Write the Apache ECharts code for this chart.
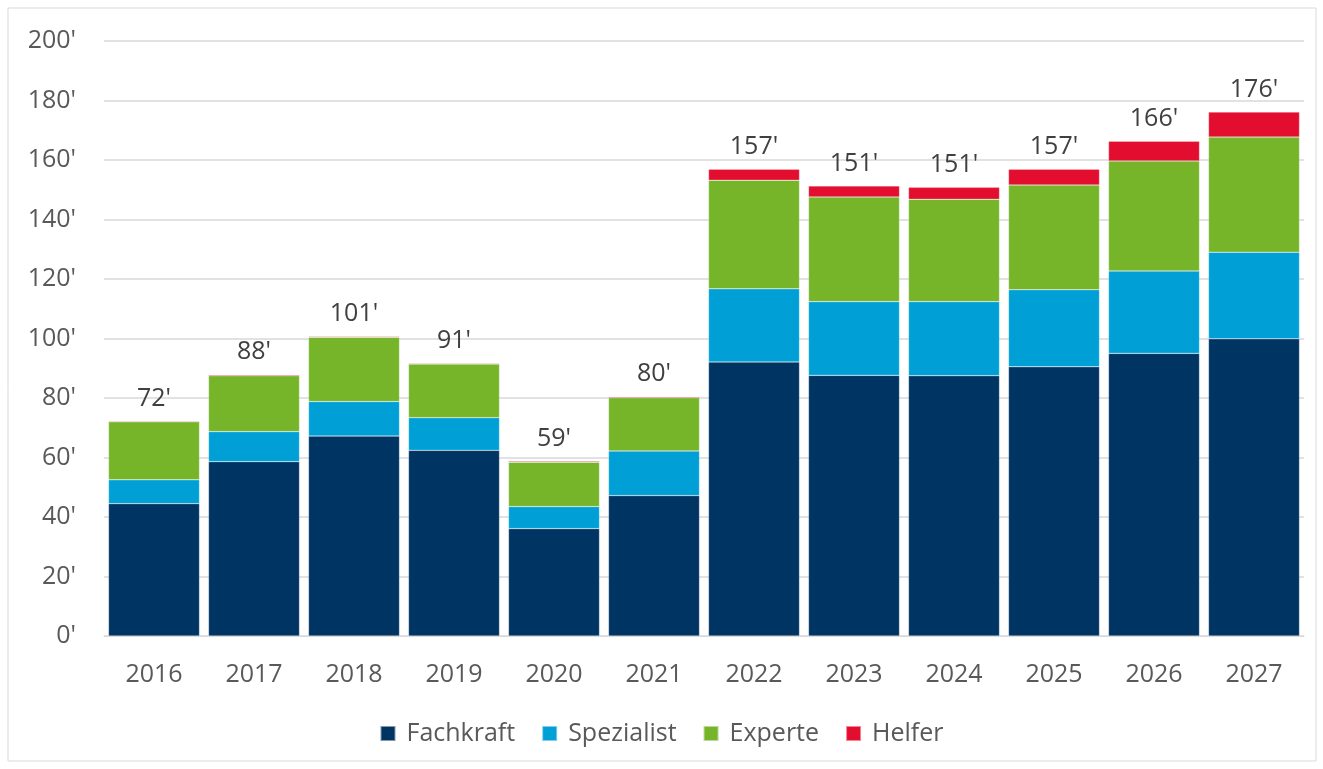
<!DOCTYPE html>
<html>
<head>
<meta charset="utf-8">
<script src="https://cdn.jsdelivr.net/npm/echarts@6/dist/echarts.min.js"></script>
<style>
  html, body { margin: 0; padding: 0; background: #fff; }
  #main { width: 1323px; height: 769px; }
</style>
</head>
<body>
<div id="main"></div>
<script>
// Jahre und Werte (in Tausend)
var years = ['2016', '2017', '2018', '2019', '2020', '2021', '2022', '2023', '2024', '2025', '2026', '2027']
var fachkraft = [44.5, 58.6, 67.2, 62.4, 36.1, 47.2, 92.1, 87.6, 87.5, 90.5, 95.0, 99.9]
var spezialist = [8.0, 10.1, 11.6, 11.0, 7.4, 15.0, 24.6, 24.8, 24.9, 25.9, 27.7, 29.1]
var experte = [19.5, 18.8, 21.6, 18.0, 14.9, 17.9, 36.5, 35.2, 34.4, 35.2, 37.0, 38.7]
var helfer = [0.3, 0.3, 0.3, 0.3, 0.3, 0.3, 3.7, 3.7, 4.0, 5.3, 6.6, 8.4]
var totals = [72, 88, 101, 91, 59, 80, 157, 151, 151, 157, 166, 176]
var yTicks = [0, 20, 40, 60, 80, 100, 120, 140, 160, 180, 200]

var font = '"Open Sans", "Noto Sans", sans-serif'
var chart = echarts.init(document.getElementById('main'))

function barSeries(name, data, color) {
  return {
    name: name,
    type: 'bar',
    stack: 'total',
    barCategoryGap: '9%',
    data: data,
    itemStyle: { color: color, borderColor: 'rgba(255,255,255,0.5)', borderWidth: 0.5 },
    animation: false
  }
}

var series = [
  barSeries('Fachkraft', fachkraft, '#003462'),
  barSeries('Spezialist', spezialist, '#009fd6'),
  barSeries('Experte', experte, '#76b52a'),
  barSeries('Helfer', helfer, '#e30e2f')
]
// Summe oben auf dem Stapel
series[3].label = {
  show: true,
  position: 'top',
  distance: 10,
  fontFamily: font,
  fontSize: 25,
  color: '#404040',
  formatter: function (p) { return totals[p.dataIndex] + "'" }
}

chart.setOption({
  backgroundColor: '#fff',
  graphic: [{
    type: 'rect',
    shape: { x: 8, y: 8, width: 1308, height: 753 },
    style: { fill: 'none', stroke: '#d9d9d9', lineWidth: 1 },
    silent: true
  }],
  grid: { left: 104, right: 19, top: 41, bottom: 133 },
  legend: {
    bottom: 18,
    left: 'center',
    itemWidth: 15,
    itemHeight: 15,
    itemGap: 26,
    icon: 'rect',
    textStyle: { fontFamily: font, fontSize: 25, color: '#595959', padding: [0, 0, 0, 6] },
    data: ['Fachkraft', 'Spezialist', 'Experte', 'Helfer']
  },
  xAxis: {
    type: 'category',
    data: years,
    axisTick: { show: false },
    axisLine: { lineStyle: { color: '#d9d9d9', width: 1 } },
    axisLabel: { fontFamily: font, fontSize: 25, color: '#595959', margin: 26 }
  },
  yAxis: {
    type: 'value',
    min: yTicks[0],
    max: yTicks[yTicks.length - 1],
    interval: 20,
    axisLine: { show: false },
    axisTick: { show: false },
    splitLine: { lineStyle: { color: '#d9d9d9', width: 1.5 } },
    axisLabel: {
      fontFamily: font, fontSize: 25, color: '#595959', margin: 28,
      formatter: function (v) { return v + "'" }
    }
  },
  series: series
})
</script>
</body>
</html>
